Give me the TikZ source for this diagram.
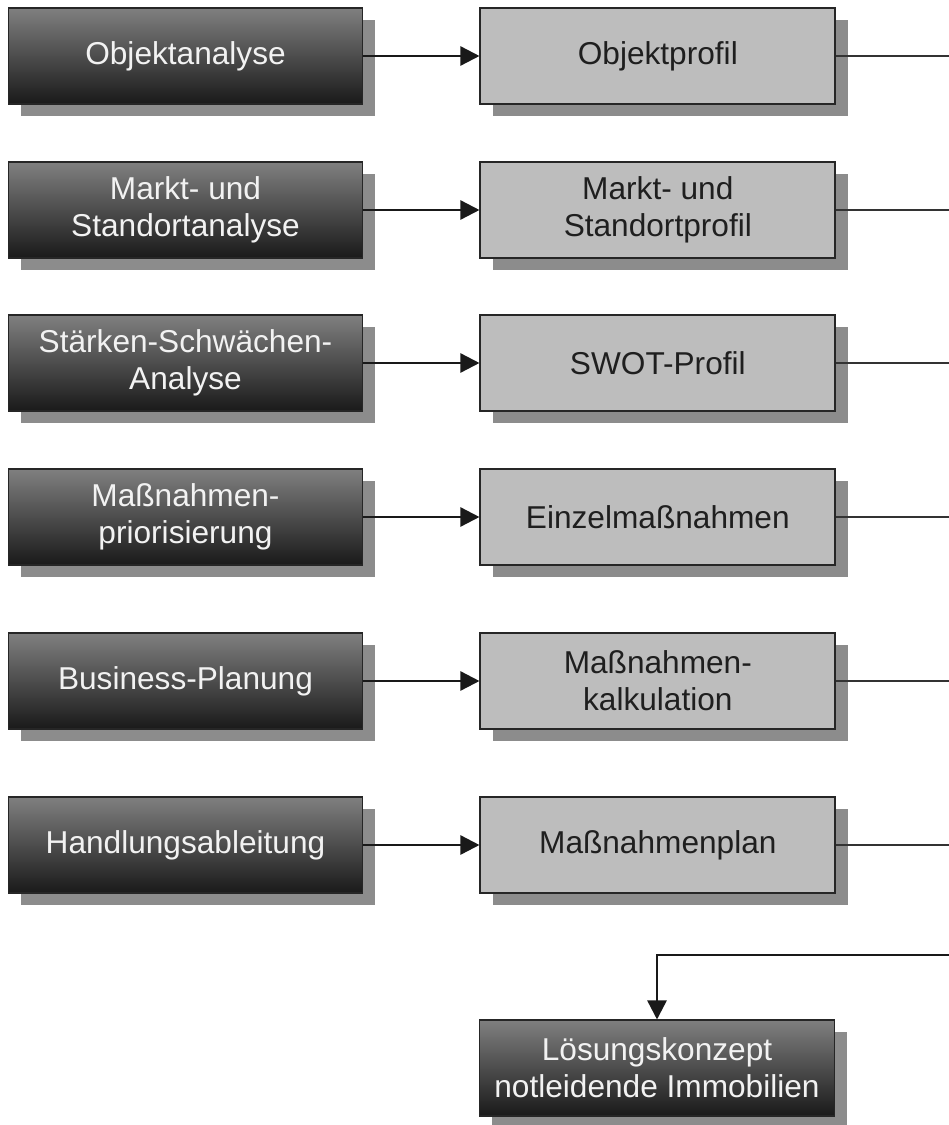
\documentclass[tikz,border=0pt]{standalone}
\usepackage{fontspec}
\setmainfont{Liberation Sans}
\usepackage{tikz}
\usetikzlibrary{arrows.meta, positioning, shadows}
\tikzset{
  box/.style={rectangle, align=center, font=\fontsize{18}{21}\selectfont, inner sep=4pt,
    minimum width=7.1cm, minimum height=1.92cm,
    drop shadow={shadow xshift=0.25cm, shadow yshift=-0.24cm, fill=black!45, opacity=1}},
  analyse/.style={box, draw=black!85, line width=0.6pt, top color=black!50, bottom color=black!90,
    middle color=black!70, text=black!5},
  result/.style={box, draw=black!85, line width=1pt, fill=black!26, text=black!88},
  arr/.style={-{Triangle[length=0.38cm, width=0.38cm]}, line width=1.4pt, black!90},
  exitline/.style={line width=1.3pt, black!80},
}
\begin{document}
\begin{tikzpicture}[x=0.02cm, y=-0.02cm]
  \useasboundingbox (0,0) rectangle (949,1125);
  % Analyseschritte
  \node[analyse] (ana1) at (185.5,56) {Objektanalyse};
  \node[analyse] (ana2) at (185.5,210) {Markt- und\\Standortanalyse};
  \node[analyse] (ana3) at (185.5,363) {Stärken-Schwächen-\\Analyse};
  \node[analyse] (ana4) at (185.5,517) {Maßnahmen-\\priorisierung};
  \node[analyse] (ana5) at (185.5,681) {Business-Planung};
  \node[analyse] (ana6) at (185.5,845) {Handlungsableitung};
  % Ergebnisse
  \node[result, right=2.32cm of ana1] (erg1) {Objektprofil};
  \node[result, right=2.32cm of ana2] (erg2) {Markt- und\\Standortprofil};
  \node[result, right=2.32cm of ana3] (erg3) {SWOT-Profil};
  \node[result, right=2.32cm of ana4] (erg4) {Einzelmaßnahmen};
  \node[result, right=2.32cm of ana5] (erg5) {Maßnahmen-\\kalkulation};
  \node[result, right=2.32cm of ana6] (erg6) {Maßnahmenplan};
  % Ziel
  \node[analyse] (ziel) at (657,1068) {Lösungskonzept\\notleidende Immobilien};
  \foreach \i in {1,...,6} {
    \draw[arr] (ana\i) -- (erg\i);
    \coordinate (rand\i) at (erg\i.east -| 949,0);
    \draw[exitline] (erg\i) -- (rand\i);
  }
  \coordinate (rand7) at (949,955);
  \draw[arr] (rand7) -| (ziel.north);
\end{tikzpicture}
\end{document}
